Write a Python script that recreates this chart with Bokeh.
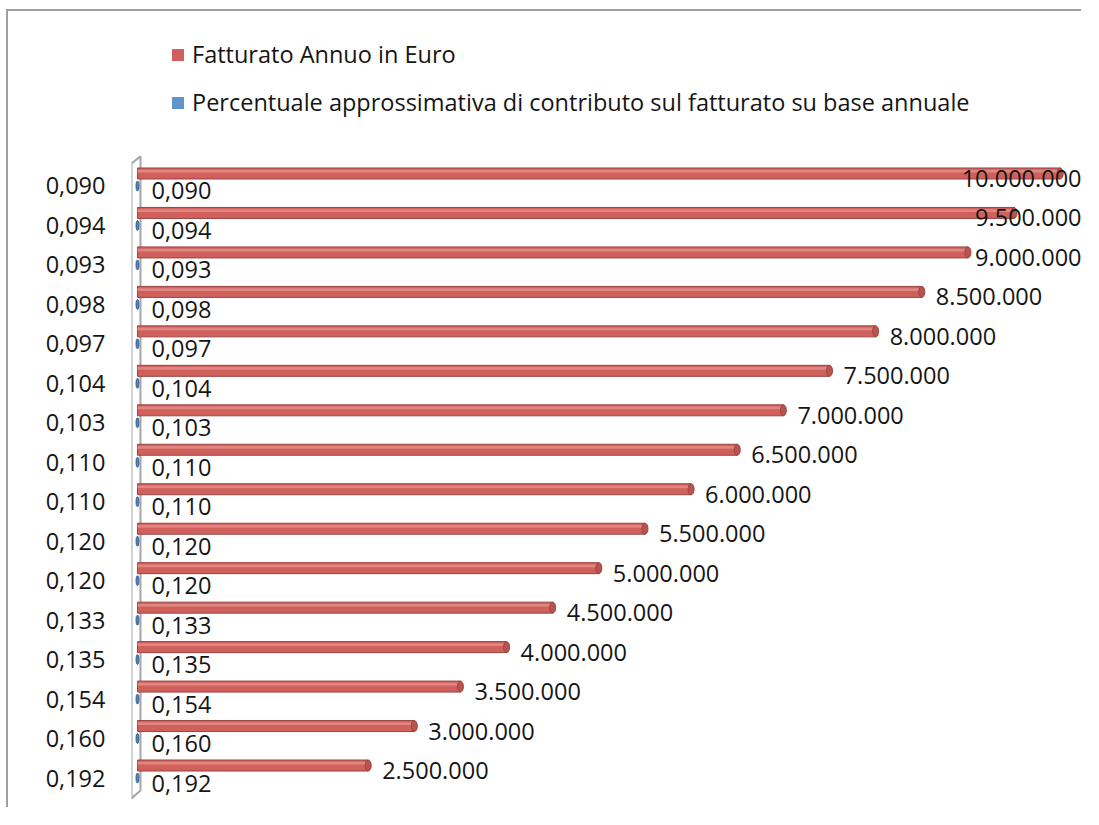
from bokeh.plotting import figure
from bokeh.models import Range1d, ColumnDataSource, FixedTicker, Legend, LegendItem
from bokeh.core.properties import value
from bokeh.embed import file_html
from bokeh.resources import INLINE

# ---- data (top to bottom as in the chart) ----
categories = ["0,090", "0,094", "0,093", "0,098", "0,097", "0,104", "0,103", "0,110",
              "0,110", "0,120", "0,120", "0,133", "0,135", "0,154", "0,160", "0,192"]
fatturato = [10000000, 9500000, 9000000, 8500000, 8000000, 7500000, 7000000, 6500000,
             6000000, 5500000, 5000000, 4500000, 4000000, 3500000, 3000000, 2500000]
percentuale = [0.090, 0.094, 0.093, 0.098, 0.097, 0.104, 0.103, 0.110,
               0.110, 0.120, 0.120, 0.133, 0.135, 0.154, 0.160, 0.192]
series_names = ["Fatturato Annuo in Euro",
                "Percentuale approssimativa di contributo sul fatturato su base annuale"]

FONT = "Open Sans"
RED = "#d0605c"
RED_DARK = "#9a4542"
BLUE = "#5f95cc"
TXT = "#151515"

n = len(categories)
ypos = [n - 1 - i for i in range(n)]          # top category highest
red_y = [y + 0.317 for y in ypos]

W, H = 1075, 798
LEFT = 123
x_start, x_end = -65026, 10252521
y_start, y_end = -0.696, 19.421
frame_w = W - LEFT
px_per_unit = frame_w / (x_end - x_start)

p = figure(width=W, height=H, output_backend="svg", toolbar_location=None,
           x_range=Range1d(x_start, x_end), y_range=Range1d(y_start, y_end),
           x_axis_location=None, min_border_left=LEFT, min_border_right=0,
           min_border_top=0, min_border_bottom=4)
p.grid.visible = False
p.outline_line_color = None
p.background_fill_color = "white"
p.styles = {"margin-left": "6px", "margin-top": "9px",
            "border-left": "2px solid #a0a0a0", "border-top": "2px solid #a0a0a0"}

# 3D wall
wall_x = [-65000, 32500, 32500, -65000]
wall_y = [n - 1 + 0.57, n - 1 + 0.75, -0.315, -0.517]
p.patch(wall_x, wall_y, fill_color="white", line_color="#a6a6a6", line_width=2)

# red bars (cylinders)
src_r = ColumnDataSource(dict(y=red_y, v=fatturato))
red_bars = p.hbar(y="y", left=0, right="v", height=0.279, source=src_r,
                  fill_color=RED, line_color=None)
p.hbar(y="y", left=0, right="v", height=0.279, source=src_r,
       fill_color=None, line_color=RED_DARK, line_width=1)
p.hbar(y=[y + 0.06 for y in red_y], left=0, right=fatturato, height=0.07,
       fill_color="#e0857f", line_color=None)
p.ellipse(x="v", y="y", width=6, height=11, width_units="screen", height_units="screen",
          source=src_r, fill_color="#b9534f", line_color=RED_DARK)

# blue bars (tiny values: practically zero length, shown as cylinder caps)
blue_bars = p.hbar(y=ypos, left=0, right=percentuale, height=0.25,
                   fill_color=BLUE, line_color=None)
p.ellipse(x=percentuale, y=ypos, width=3, height=10, width_units="screen",
          height_units="screen", fill_color="#4f81bd", line_color="#3c6796")

# red data labels
red_lab = [f"{v:,}".replace(",", ".") for v in fatturato]
lx, la, lo = [], [], []
for v, t in zip(fatturato, red_lab):
    end_px = (v - x_start) * px_per_unit + 14 + len(t) * 11.9
    if end_px > frame_w - 2:
        lx.append(x_end); la.append("right"); lo.append(-2)
    else:
        lx.append(v); la.append("left"); lo.append(14)
p.text(x=lx, y=red_y, text=red_lab, x_offset=lo, y_offset=5, text_align=la,
       text_baseline="middle", text_font=value(FONT), text_font_size="23.5px",
       text_color=TXT)

# blue data labels
blue_lab = [f"{v:.3f}".replace(".", ",") for v in percentuale]
p.text(x=percentuale, y=ypos, text=blue_lab, x_offset=14, y_offset=5,
       text_align="left", text_baseline="middle", text_font=value(FONT),
       text_font_size="23.5px", text_color=TXT)

# y axis (category labels)
p.yaxis.ticker = FixedTicker(ticks=ypos)
p.yaxis.major_label_overrides = {y: c for y, c in zip(ypos, categories)}
p.yaxis.axis_line_color = None
p.yaxis.major_tick_line_color = None
p.yaxis.minor_tick_line_color = None
p.yaxis.major_tick_out = 0
p.yaxis.major_label_standoff = 26
p.yaxis.major_label_text_font = FONT
p.yaxis.major_label_text_font_size = "23.5px"
p.yaxis.major_label_text_color = TXT

# legend
legend = Legend(items=[LegendItem(label=series_names[0], renderers=[red_bars]),
                       LegendItem(label=series_names[1], renderers=[blue_bars])],
                location=(39, 686), orientation="vertical", margin=0, padding=0,
                glyph_width=15, glyph_height=15, label_standoff=7, spacing=14,
                label_height=34, label_text_font=FONT, label_text_font_size="23.5px",
                label_text_color=TXT, border_line_alpha=0,
                background_fill_alpha=0)
p.add_layout(legend)

open("out.html", "w").write(file_html(p, INLINE))
